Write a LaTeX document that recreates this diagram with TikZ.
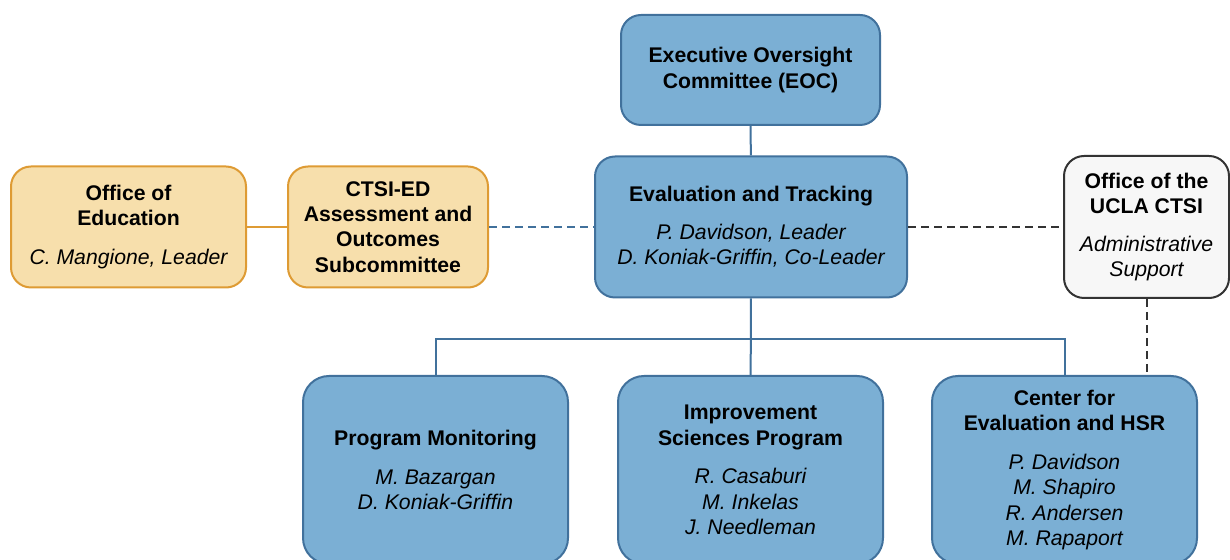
\documentclass[tikz,border=0pt]{standalone}
\usepackage{fontspec}
\setmainfont{Liberation Sans}
\definecolor{boxblue}{HTML}{7BAFD4}
\definecolor{edgeblue}{HTML}{41719C}
\definecolor{boxtan}{HTML}{F7DFAC}
\definecolor{edgetan}{HTML}{DE9B34}
\definecolor{boxgray}{HTML}{F7F7F7}
\definecolor{edgegray}{HTML}{333333}
\newcommand{\who}[1]{{\mdseries\itshape #1}}

\begin{document}
\begin{tikzpicture}[x=0.5pt,y=-0.5pt,
    unit/.style={draw=edgeblue,fill=boxblue,line width=1pt,rounded corners=10pt,
      align=center,inner sep=0pt,font=\fontsize{10.6}{12.7}\selectfont\bfseries},
    office/.style={unit,draw=edgetan,fill=boxtan,minimum width=#1,minimum height=60.5pt},
    program/.style={unit,rounded corners=13pt,minimum width=132.5pt,minimum height=94pt},
    link/.style={edgeblue,line width=1pt},
    loose/.style={link,dash pattern=on 4pt off 2.5pt}]
  \useasboundingbox (0,0) rectangle (1230,560);%<-
  % top row
  \node[unit,minimum width=129.5pt,minimum height=55pt] (eoc) at (750.5,70)
    {Executive Oversight\\Committee (EOC)};
  \node[unit,minimum width=156pt,minimum height=70.5pt] (et) at (751,227)
    {Evaluation and Tracking\\[6pt]\who{P. Davidson, Leader}\\\who{D. Koniak-Griffin, Co-Leader}};
  \node[office=117.5pt] (oe) at (128.5,227) {Office of\\Education\\[6.5pt]\who{C. Mangione, Leader}};
  \node[office=100pt] (ctsi) at (388,227) {CTSI-ED\\Assessment and\\Outcomes\\Subcommittee};
  \node[unit,draw=edgegray,fill=boxgray,minimum width=82.5pt,minimum height=71pt] (ucla) at (1146.5,227)
    {Office of the\\UCLA CTSI\\[6pt]\who{Administrative}\\\who{Support}};
  % programs
  \node[program] (pm) at (435.5,470) {Program Monitoring\\[6.5pt]\who{M. Bazargan}\\\who{D. Koniak-Griffin}};
  \node[program] (is) at (750.5,470)
    {Improvement\\Sciences Program\\[6.5pt]\who{R. Casaburi}\\\who{M. Inkelas}\\\who{J. Needleman}};
  \node[program] (ce) at (1064.5,470)
    {Center for\\Evaluation and HSR\\[6.5pt]\who{P. Davidson}\\\who{M. Shapiro}\\\who{R. Andersen}\\\who{M. Rapaport}};
  % connectors
  \draw[link] (eoc) -- (et);
  \draw[link] (et) -- (is);
  \path (et.south) ++(0,40.5) coordinate (fork);
  \draw[link] (fork) -| (pm.north);
  \draw[link] (fork) -| (ce.north);
  \draw[edgetan,line width=1.1pt] (oe) -- (ctsi);
  \draw[loose] (ctsi) -- (et);
  \draw[loose,edgegray] (et) -- (ucla);
  \draw[loose,edgegray] (ucla.south) -- (ucla.south |- ce.north);
\end{tikzpicture}
\end{document}
